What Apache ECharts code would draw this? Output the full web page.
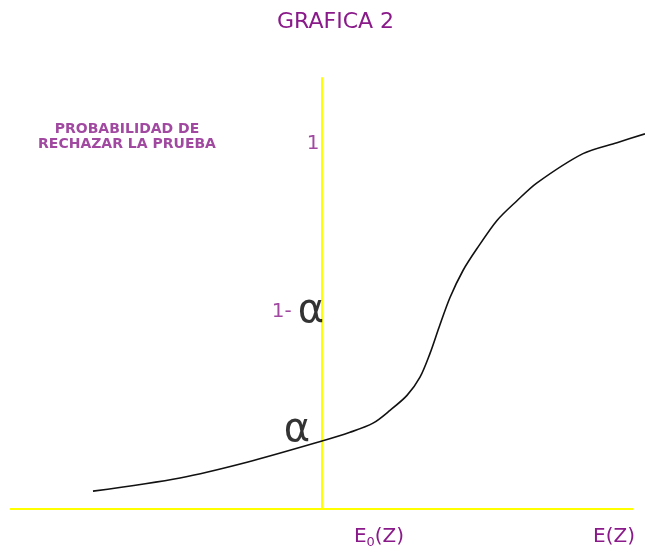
<!DOCTYPE html>
<html><head><meta charset="utf-8">
<script src="https://cdn.jsdelivr.net/npm/echarts@6/dist/echarts.min.js"></script>
<style>html,body{margin:0;padding:0;background:#fff}#c{width:645px;height:559px}</style>
</head><body><div id="c"></div>
<script>
const titleText = 'GRAFICA 2';
// curve (x: distance from E0(Z) axis, y: probability of rejecting)
const curveX = [-2.29, -1.42, -0.75, 0, 0.28, 0.51, 0.68, 0.85, 0.98, 1.08, 1.17, 1.28, 1.41, 1.55, 1.75, 1.95, 2.15, 2.61, 2.95, 3.23];
const curveY = [0.049, 0.085, 0.128, 0.186, 0.210, 0.235, 0.270, 0.311, 0.361, 0.426, 0.497, 0.579, 0.653, 0.713, 0.790, 0.844, 0.893, 0.973, 1.003, 1.027];
const baseLineX = [-3.12, 3.11];
const xTickValues = [0.57, 2.92];
const xTickLabels = ['{e|E}{s|0}{e|(Z)}', '{e|E(Z)}'];
const annoText = ['PROBABILIDAD DE\nRECHAZAR LA PRUEBA', '1', '{p|1-}{a|α}', '{a|α}'];
const annoX = [-1.95, -0.09, -0.24, -0.28];
const annoY = [1.02, 1.0, 0.54, 0.215];

const purple = '#8a1a8a';
const chart = echarts.init(document.getElementById('c'));
chart.setOption({
  animation: false,
  backgroundColor: '#fff',
  title: {
    text: titleText, left: 272, top: 6,
    textStyle: { color: purple, fontFamily: 'DejaVu Sans', fontSize: 22, fontWeight: 'normal' }
  },
  grid: { left: 10, right: 0, top: 78, bottom: 50 },
  xAxis: {
    type: 'value', min: -3.12, max: 3.23,
    axisLine: { show: false },
    axisTick: { show: false }, splitLine: { show: false },
    axisLabel: {
      customValues: xTickValues, margin: 16,
      formatter: function (v) {
        const i = xTickValues.findIndex(t => Math.abs(t - v) < 1e-6);
        return i >= 0 ? xTickLabels[i] : '';
      },
      rich: {
        e: { color: purple, fontFamily: 'DejaVu Sans', fontSize: 20, lineHeight: 24, verticalAlign: 'middle' },
        s: { color: purple, fontFamily: 'DejaVu Sans', fontSize: 13, lineHeight: 24, padding: [14, 0, 0, 0], verticalAlign: 'bottom' }
      }
    }
  },
  yAxis: {
    type: 'value', min: 0, max: 1.18,
    axisLine: { onZero: true, lineStyle: { color: '#ffff00', width: 2 } },
    axisTick: { show: false }, splitLine: { show: false }, axisLabel: { show: false }
  },
  series: [
    {
      type: 'line', smooth: 0.3, symbol: 'none', clip: false, z: 5,
      lineStyle: { color: '#111', width: 1.6 },
      data: curveX.map((x, i) => [x, curveY[i]]),
      markLine: {
        silent: true, symbol: 'none', z: 1, label: { show: false },
        lineStyle: { color: '#ffff00', width: 2, type: 'solid' },
        data: [[{ coord: [baseLineX[0], 0] }, { coord: [baseLineX[1], 0] }]]
      }
    },
    {
      type: 'scatter', symbolSize: 0, clip: false, z: 6, silent: true,
      data: annoText.map((t, i) => ({
        value: [annoX[i], annoY[i]],
        label: {
          show: true, position: 'inside', formatter: t,
          color: purple, fontFamily: 'DejaVu Sans',
          fontSize: i === 0 ? 14 : 20, fontWeight: i === 0 ? 'bold' : 'normal',
          lineHeight: i === 0 ? 15 : 24, align: 'center',
          rich: {
            p: { color: purple, fontFamily: 'DejaVu Sans', fontSize: 20 },
            a: { color: '#000', fontFamily: 'DejaVu Sans', fontSize: 40, padding: [0, 0, 0, 6] }
          }
        }
      }))
    }
  ]
});
</script></body></html>
